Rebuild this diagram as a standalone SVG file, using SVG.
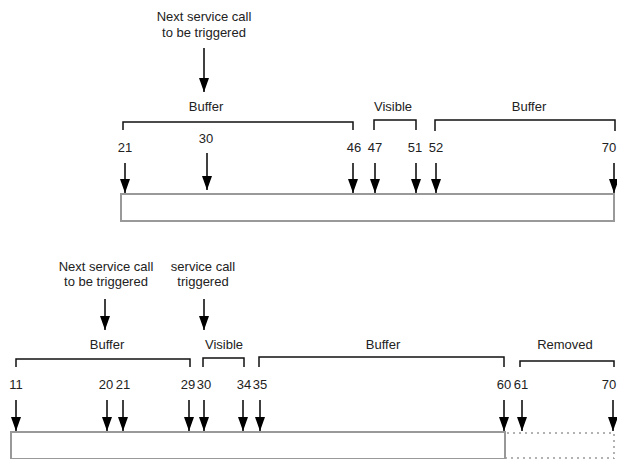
<svg xmlns="http://www.w3.org/2000/svg" width="617" height="459" viewBox="0 0 617 459">
<style>
text{font-family:"Liberation Sans",Arial,Helvetica,sans-serif;font-size:13px;fill:#222;text-anchor:middle}
.ar{stroke:#000;stroke-width:1.5;fill:none}
.br{stroke:#111;stroke-width:1.5;fill:none}
.bar{stroke:#999;stroke-width:2;fill:#fff}
.dot{stroke:#999;stroke-width:1.5;fill:none;stroke-dasharray:2 4}
</style>
<defs>
<marker id="ah" viewBox="0 0 14 10" refX="14" refY="5" markerWidth="14" markerHeight="10" markerUnits="userSpaceOnUse" orient="auto">
<path d="M0,0 L14,5 L0,10 Z" fill="#000"/>
</marker>
</defs>

<g id="top-bar">
<rect class="bar" x="121" y="194" width="493" height="27"/>
</g>
<g id="bottom-bar">
<path class="bar" d="M505,432 L11,432 L11,459 L505,459 Z"/>
<line x1="505" y1="432" x2="505" y2="459" stroke="#999" stroke-width="1.5"/>
<path class="dot" d="M507,433 L614,433 L614,459 M505,458 L614,458"/>
</g>

<g id="top-labels">
<text x="204" y="21">Next service call</text>
<text x="204" y="37">to be triggered</text>
<text x="206" y="111">Buffer</text>
<text x="393" y="111">Visible</text>
<text x="529" y="111">Buffer</text>
<text x="125" y="152">21</text>
<text x="206" y="143">30</text>
<text x="354" y="152">46</text>
<text x="375" y="152">47</text>
<text x="415" y="152">51</text>
<text x="436" y="152">52</text>
<text x="609" y="152">70</text>
</g>

<g id="bottom-labels">
<text x="106" y="271">Next service call</text>
<text x="106" y="286">to be triggered</text>
<text x="203" y="271">service call</text>
<text x="203" y="286">triggered</text>
<text x="107" y="349">Buffer</text>
<text x="224" y="349">Visible</text>
<text x="383" y="349">Buffer</text>
<text x="565" y="349">Removed</text>
<text x="16" y="389">11</text>
<text x="106" y="389">20</text>
<text x="123" y="389">21</text>
<text x="188" y="389">29</text>
<text x="204" y="389">30</text>
<text x="244" y="389">34</text>
<text x="260" y="389">35</text>
<text x="504" y="389">60</text>
<text x="521" y="389">61</text>
<text x="609" y="389">70</text>
</g>

<g id="connectors">
<g id="top-brackets">
<path class="br" d="M123,130 L123,122 L353,122 L353,130"/>
<path class="br" d="M374,130 L374,120 L416,120 L416,130"/>
<path class="br" d="M435,131 L435,120 L615,120 L615,131"/>
</g>
<g id="top-arrows">
<line class="ar" x1="204" y1="48" x2="204" y2="92" marker-end="url(#ah)"/>
<line class="ar" x1="125" y1="163" x2="125" y2="193" marker-end="url(#ah)"/>
<line class="ar" x1="207" y1="153" x2="207" y2="190" marker-end="url(#ah)"/>
<line class="ar" x1="353" y1="163" x2="353" y2="193" marker-end="url(#ah)"/>
<line class="ar" x1="375" y1="163" x2="375" y2="193" marker-end="url(#ah)"/>
<line class="ar" x1="416" y1="163" x2="416" y2="193" marker-end="url(#ah)"/>
<line class="ar" x1="436" y1="163" x2="436" y2="193" marker-end="url(#ah)"/>
<line class="ar" x1="614" y1="163" x2="614" y2="193" marker-end="url(#ah)"/>
</g>
<g id="bottom-brackets">
<path class="br" d="M16,367 L16,359 L190,359 L190,367"/>
<path class="br" d="M203,367 L203,358 L244,358 L244,367"/>
<path class="br" d="M259,367 L259,357 L504,357 L504,367"/>
<path class="br" d="M520,367 L520,361 L614,361 L614,367"/>
</g>
<g id="bottom-arrows">
<line class="ar" x1="105" y1="299" x2="105" y2="330" marker-end="url(#ah)"/>
<line class="ar" x1="204" y1="299" x2="204" y2="330" marker-end="url(#ah)"/>
<line class="ar" x1="16" y1="400" x2="16" y2="431" marker-end="url(#ah)"/>
<line class="ar" x1="107" y1="400" x2="107" y2="431" marker-end="url(#ah)"/>
<line class="ar" x1="123" y1="400" x2="123" y2="431" marker-end="url(#ah)"/>
<line class="ar" x1="189" y1="400" x2="189" y2="431" marker-end="url(#ah)"/>
<line class="ar" x1="204" y1="400" x2="204" y2="431" marker-end="url(#ah)"/>
<line class="ar" x1="243" y1="400" x2="243" y2="431" marker-end="url(#ah)"/>
<line class="ar" x1="260" y1="400" x2="260" y2="431" marker-end="url(#ah)"/>
<line class="ar" x1="504" y1="400" x2="504" y2="431" marker-end="url(#ah)"/>
<line class="ar" x1="522" y1="400" x2="522" y2="431" marker-end="url(#ah)"/>
<line class="ar" x1="613" y1="400" x2="613" y2="431" marker-end="url(#ah)"/>
</g>
</g>
</svg>
